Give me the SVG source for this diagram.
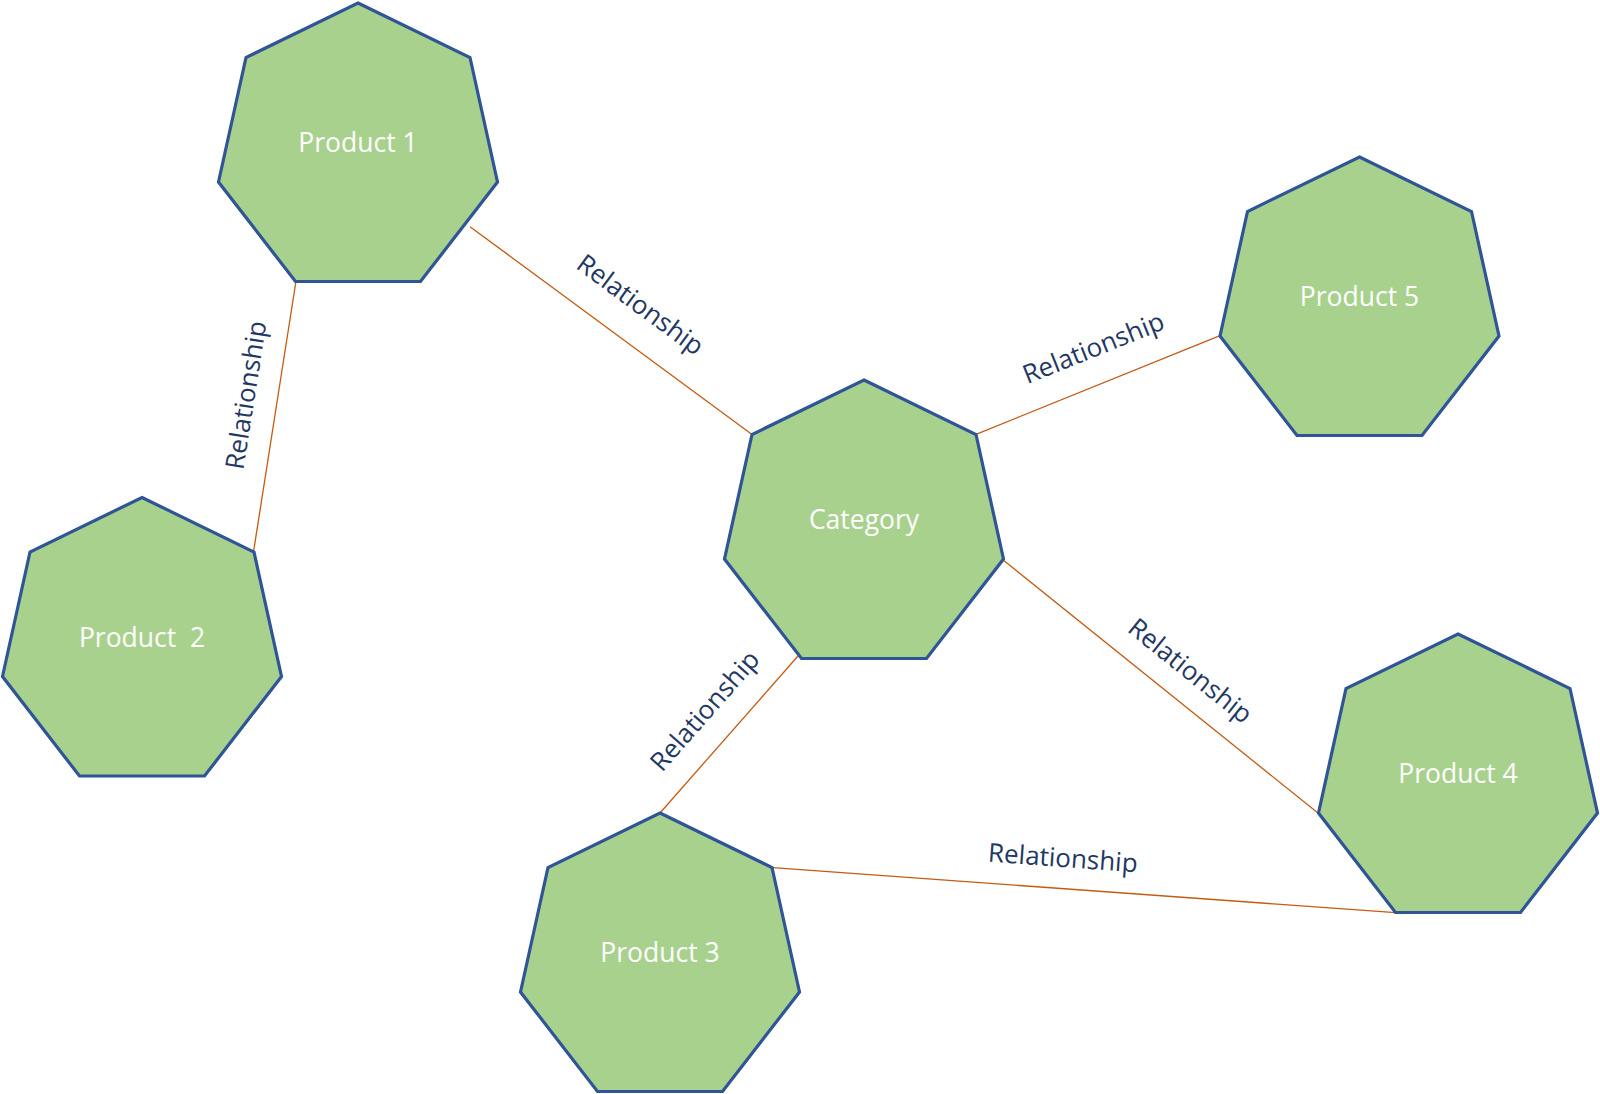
<svg xmlns="http://www.w3.org/2000/svg" xmlns:xlink="http://www.w3.org/1999/xlink" width="1600" height="1094" viewBox="0 0 1600 1094">
  <style>
    .hept { fill: #A9D18E; stroke: #2F5597; stroke-width: 3.2; stroke-linejoin: miter; }
    .node-label { font-family: "Open Sans", "Liberation Sans", sans-serif; font-size: 26.5px; fill: #FFFFFF; text-anchor: middle; dominant-baseline: central; }
    .conn { stroke: #C55A11; stroke-width: 1.3; fill: none; }
    .conn-label { font-family: "Open Sans", "Liberation Sans", sans-serif; font-size: 26px; fill: #1F3864; text-anchor: middle; dominant-baseline: central; }
  </style>
  <defs>
    <polygon id="heptagon" points="0,0 112,54.5 139.5,179 62.5,278.5 -62.5,278.5 -139.5,179 -112,54.5"/>
  </defs>
  <rect width="1600" height="1094" fill="#FFFFFF"/>

  <g id="connectors">
    <line class="conn" x1="296" y1="281" x2="253.5" y2="552"/>
    <line class="conn" x1="470" y1="226.7" x2="751.7" y2="434.3"/>
    <line class="conn" x1="976" y1="434.3" x2="1220" y2="335.7"/>
    <line class="conn" x1="1004" y1="560.7" x2="1318.3" y2="813.3"/>
    <line class="conn" x1="798" y1="656" x2="660" y2="813"/>
    <line class="conn" x1="772.7" y1="867.7" x2="1395.7" y2="912.7"/>
    <text class="conn-label" transform="translate(245,395) rotate(-81)">Relationship</text>
    <text class="conn-label" transform="translate(641,304) rotate(36.4)">Relationship</text>
    <text class="conn-label" transform="translate(1093,347) rotate(-21.9)">Relationship</text>
    <text class="conn-label" transform="translate(1191,670) rotate(38.8)">Relationship</text>
    <text class="conn-label" transform="translate(704,710) rotate(-48.7)">Relationship</text>
    <text class="conn-label" transform="translate(1063,857) rotate(4.1)">Relationship</text>
  </g>

  <g id="node-product1">
    <use xlink:href="#heptagon" href="#heptagon" class="hept" x="358" y="3"/>
    <text class="node-label" x="358" y="142">Product 1</text>
  </g>
  <g id="node-product2">
    <use xlink:href="#heptagon" href="#heptagon" class="hept" x="142" y="497.5"/>
    <text class="node-label" x="142" y="636.5" xml:space="preserve">Product  2</text>
  </g>
  <g id="node-category">
    <use xlink:href="#heptagon" href="#heptagon" class="hept" x="864" y="380"/>
    <text class="node-label" x="864" y="519">Category</text>
  </g>
  <g id="node-product3">
    <use xlink:href="#heptagon" href="#heptagon" class="hept" x="660" y="813"/>
    <text class="node-label" x="660" y="952">Product 3</text>
  </g>
  <g id="node-product4">
    <use xlink:href="#heptagon" href="#heptagon" class="hept" x="1458" y="634"/>
    <text class="node-label" x="1458" y="773">Product 4</text>
  </g>
  <g id="node-product5">
    <use xlink:href="#heptagon" href="#heptagon" class="hept" x="1359.5" y="157"/>
    <text class="node-label" x="1359.5" y="296">Product 5</text>
  </g>
</svg>
